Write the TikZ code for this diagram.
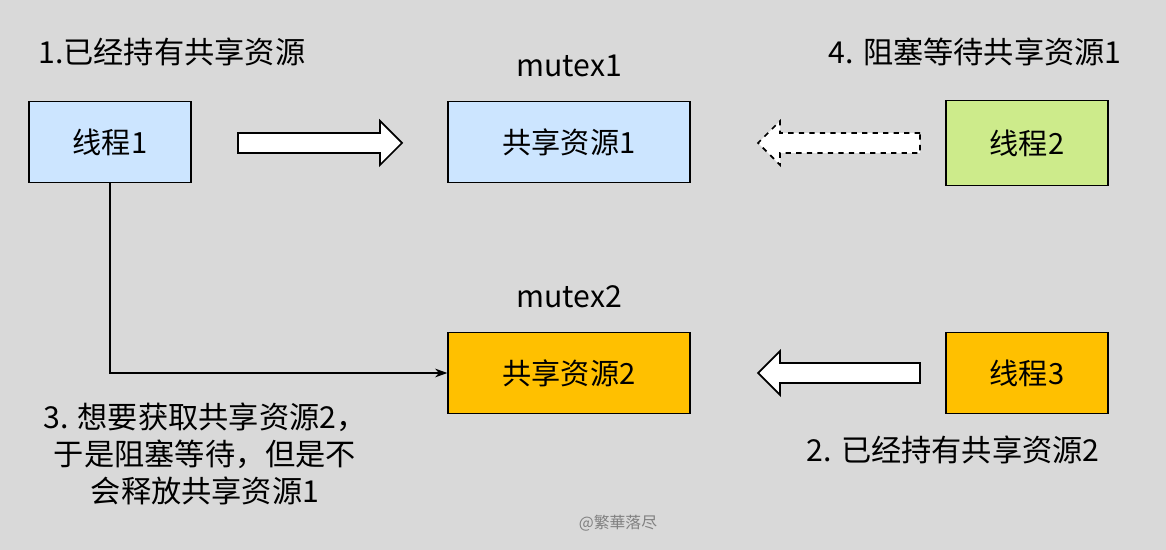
\documentclass[tikz,border=0pt]{standalone}
\usepackage{fontspec}
\setmainfont{Noto Sans CJK SC}
\usetikzlibrary{arrows.meta}
\definecolor{bg}{HTML}{D9D9D9}
\definecolor{lblue}{HTML}{CCE5FF}
\definecolor{lgreen}{HTML}{CDEB8B}
\definecolor{gold}{HTML}{FFC000}
\begin{document}
\begin{tikzpicture}[x=0.02cm,y=-0.02cm,
  box/.style={draw=black,line width=0.8pt,minimum width=3.24cm,minimum height=1.62cm,inner sep=0pt,font=\fontsize{16.6}{19}\selectfont},
  wide/.style={box,minimum width=4.84cm},
  lbl/.style={font=\fontsize{17.2}{20}\selectfont,inner sep=0pt},
  blk/.style={draw=black,line width=1pt,fill=white}]
\fill[bg] (0,0) rectangle (1166,550);
\useasboundingbox (0,0) rectangle (1166,550);
\node[box,fill=lblue] (t1) at (110,142) {线程1};
\node[wide,fill=lblue] (r1) at (569,142) {共享资源1};
\node[box,fill=lgreen,minimum height=1.7cm] (t2) at (1027,143) {线程2};
\node[wide,fill=gold] (r2) at (569,373) {共享资源2};
\node[box,fill=gold] (t3) at (1027,373) {线程3};
% block arrows
\draw[blk] (238,133) -- (380,133) -- (380,121) -- (402,143) -- (380,165) -- (380,153) -- (238,153) -- cycle;
\draw[blk,dashed] (920,133) -- (780,133) -- (780,121) -- (758,143) -- (780,165) -- (780,153) -- (920,153) -- cycle;
\draw[blk] (920,363) -- (780,363) -- (780,351) -- (758,373) -- (780,395) -- (780,383) -- (920,383) -- cycle;
\draw[-{Stealth[length=7pt,width=5pt]},line width=0.6pt] (t1.south) |- (r2.west);
\node[lbl,anchor=west] (a1) at (38,52) {1.已经持有共享资源};
\node[lbl] (m1) at (569,66) {mutex1};
\node[lbl,anchor=east] (a4) at (1122,52) {4. 阻塞等待共享资源1};
\node[lbl] (m2) at (569,297) {mutex2};
\node[lbl,align=center,font=\fontsize{17.2}{21}\selectfont] (a3) at (205,454) {3. 想要获取共享资源2，\\于是阻塞等待，但是不\\会释放共享资源1};
\node[lbl,anchor=east] (a2) at (1100,450) {2. 已经持有共享资源2};
\node[lbl,font=\fontsize{9}{11}\selectfont,text=gray] (w) at (618,523) {@繁華落尽};
\end{tikzpicture}
\end{document}
